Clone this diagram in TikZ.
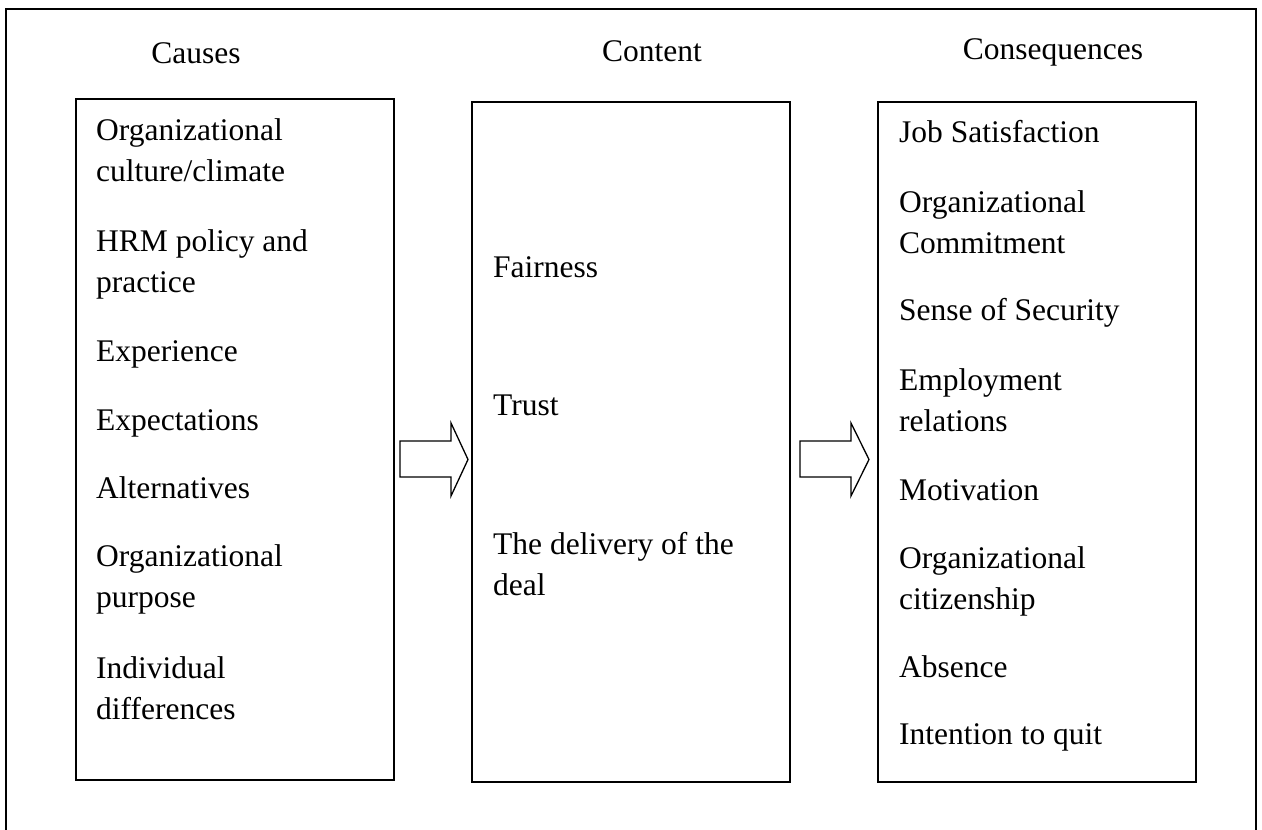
\documentclass[tikz,border=0pt]{standalone}
\usepackage{fontspec}
\setmainfont{Liberation Serif}
\begin{document}
\begin{tikzpicture}[x=1pt,y=-1pt,
  frame/.style={line width=1.6pt},
  column/.style={draw,line width=1.6pt,minimum width=318pt,inner sep=0pt},
  heading/.style={anchor=base,inner sep=0pt,font=\fontsize{31.5}{41}\selectfont},
  item/.style={anchor=base west,inner sep=0pt,align=left,font=\fontsize{31.5}{41}\selectfont},
  blockarrow/.style={draw,line width=1.3pt,line join=miter,fill=white}]
\useasboundingbox (0,0) rectangle (1262,830);

% outer frame (open at the bottom)
\draw[frame] (6,830) -- (6,9) -- (1256,9) -- (1256,830);

% column headings
\node[heading] (hcause) at (196,63) {Causes};
\node[heading] (hcont) at (652,61) {Content};
\node[heading] (hcons) at (1053,59) {Consequences};

% the three columns
\node[column,minimum height=681pt] (causes) at (235,439.5) {};
\node[column,minimum height=680pt] (content) at (631,442) {};
\node[column,minimum height=680pt] (cons) at (1037,442) {};

% causes (positions are the baseline of each item's last line)
\node[item] (c1) at (96,181) {Organizational\\culture/climate};
\node[item] (c2) at (96,292) {HRM policy and\\practice};
\node[item] (c3) at (96,361) {Experience};
\node[item] (c4) at (96,430) {Expectations};
\node[item] (c5) at (96,498) {Alternatives};
\node[item] (c6) at (96,607) {Organizational\\purpose};
\node[item] (c7) at (96,719) {Individual\\differences};

% content
\node[item] (t1) at (493,277) {Fairness};
\node[item] (t2) at (493,415) {Trust};
\node[item] (t3) at (493,595) {The delivery of the\\deal};

% consequences
\node[item] (q1) at (899,142) {Job Satisfaction};
\node[item] (q2) at (899,253) {Organizational\\Commitment};
\node[item] (q3) at (899,320) {Sense of Security};
\node[item] (q4) at (899,431) {Employment\\relations};
\node[item] (q5) at (899,500) {Motivation};
\node[item] (q6) at (899,609) {Organizational\\citizenship};
\node[item] (q7) at (899,677) {Absence};
\node[item] (q8) at (899,744) {Intention to quit};

% block arrows between the columns
\draw[blockarrow] (400,441) -- (451,441) -- (451,423) -- (468,459.5)
  -- (451,496) -- (451,477) -- (400,477) -- cycle;
\draw[blockarrow] (800,441) -- (851,441) -- (851,423) -- (869,459.5)
  -- (851,496) -- (851,477) -- (800,477) -- cycle;
\end{tikzpicture}
\end{document}
